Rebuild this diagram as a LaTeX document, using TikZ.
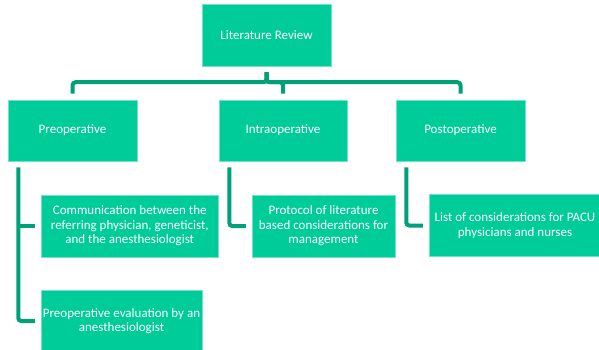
\documentclass[tikz,border=0pt]{standalone}
\usepackage{fontspec}
\setmainfont{Carlito}
\usetikzlibrary{calc}
\definecolor{boxgreen}{RGB}{0,204,153}
\definecolor{linkgreen}{RGB}{0,160,120}

\begin{document}
\begin{tikzpicture}[x=1pt, y=-1pt,
    box/.style={draw=boxgreen!55!white, line width=0.5pt, fill=boxgreen, text=white,
      align=center, inner sep=0pt, minimum height=62pt,
      font=\fontsize{13}{14.5}\selectfont},
    link/.style={draw=linkgreen, line width=4pt, rounded corners=3pt}]
        \useasboundingbox (0,0) rectangle (599,350);
        \clip (0,0) rectangle (599,350);

        % Top and first level
        \node[box, minimum width=129pt] (lit) at (266.5,35) {Literature Review};
        \node[box, minimum width=129pt, minimum height=61pt] (pre) at (72.5,130.5) {Preoperative};
        \node[box, minimum width=128pt, minimum height=61pt] (intra) at (283,130.5) {Intraoperative};
        \node[box, minimum width=129pt, minimum height=61pt] (post) at (460.5,130.5) {Postoperative};

        % Second level
        \node[box, minimum width=177pt] (comm) at (129.75,226) {Communication between the\\referring physician, geneticist,\\and the anesthesiologist};
        \node[box, minimum width=143pt] (proto) at (323.5,226) {Protocol of literature\\based considerations for\\management};
        \node[box, minimum width=172pt] (list) at (515,225.5) {List of considerations for PACU\\physicians and nurses};
        \node[box, minimum width=161pt] (eval) at (121.5,321) {Preoperative evaluation by an\\anesthesiologist};

        % Connectors from the top box
        \draw[link] ($(lit.south)+(0,6)$) |- ($(pre.north)+(0,-17.5)$) -- ($(pre.north)+(0,-6)$);
        \draw[link] ($(lit.south)+(0,6)$) |- ($(intra.north)+(0,-17.5)$) -- ($(intra.north)+(0,-6)$);
        \draw[link] ($(lit.south)+(0,6)$) |- ($(post.north)+(0,-17.5)$) -- ($(post.north)+(0,-6)$);

        % Connectors to the second level
        \coordinate (prebar) at ($(pre.south west)+(10.5,6)$);
        \coordinate (intrabar) at ($(intra.south west)+(10.5,6)$);
        \coordinate (postbar) at ($(post.south west)+(10.5,6)$);
        \draw[link] (prebar) |- ($(eval.west)+(-6,0)$);
        \draw[link] (prebar |- comm.west) -- ($(comm.west)+(-6,0)$);
        \draw[link] (intrabar) |- ($(proto.west)+(-6,0)$);
        \draw[link] (postbar) |- ($(list.west)+(-6,0)$);
    \end{tikzpicture}
\end{document}
